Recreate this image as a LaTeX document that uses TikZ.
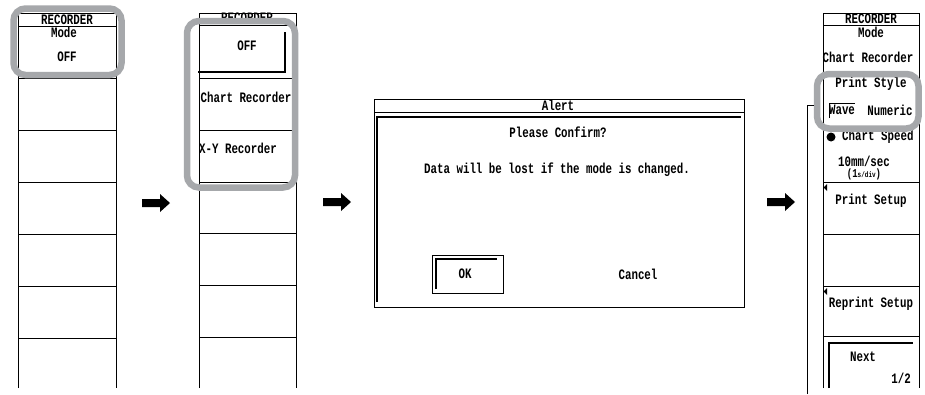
\documentclass[tikz,border=0pt]{standalone}
\usepackage{fontspec}
\newfontfamily\lcd[FakeStretch=0.75]{Liberation Mono}
\definecolor{hl}{RGB}{166,168,171}
\begin{document}
\begin{tikzpicture}[x=1pt,y=-1pt,
  txt/.style={inner sep=0pt,font=\lcd\bfseries\fontsize{14.4}{14.4}\selectfont},
  smalltxt/.style={inner sep=0pt,font=\lcd\bfseries\fontsize{12}{12}\selectfont},
  frame/.style={draw=black,line width=0.8pt},
  bevel/.style={draw=black,line width=2pt},
  hlbox/.style={draw=hl,line width=6.5pt,rounded corners=12pt},
  bigarrow/.style={fill=black}]
\useasboundingbox (0,0) rectangle (925,394);
\fill[white] (0,0) rectangle (925,394);

% ---------- panel 1 ----------
\draw[frame] (18,388) -- (18,13) -- (116,13) -- (116,388);
\foreach \yy in {26,78,130,182,234,286,338} \draw[frame] (18,\yy) -- (116,\yy);
\node[txt] (p1h) at (67,19.5) {RECORDER};
\node[txt] (p1m) at (64,32) {Mode};
\node[txt] (p1o) at (67,57) {OFF};

% ---------- arrow 1 ----------
\fill[bigarrow] (142,199) -- (160,199) -- (160,194) -- (170,203) -- (160,212) -- (160,207) -- (142,207) -- cycle;

% ---------- panel 2 ----------
\draw[frame] (199,388) -- (199,13) -- (296,13) -- (296,388);
\foreach \yy in {25,78,130,182,233,285,337} \draw[frame] (199,\yy) -- (296,\yy);
\node[txt] (p2h) at (247,18) {RECORDER};
\draw[bevel] (285,32) -- (285,72) -- (198,72);
\node[txt] (p2o) at (247,46) {OFF};
\node[txt] (p2c) at (246,97) {Chart Recorder};
\node[txt] (p2x) at (238,148) {X-Y Recorder};

% ---------- arrow 2 ----------
\fill[bigarrow] (323,198) -- (341,198) -- (341,193) -- (351,202) -- (341,211) -- (341,206) -- (323,206) -- cycle;

% ---------- alert dialog ----------
\draw[frame] (374,99) rectangle (744,307);
\draw[frame] (374,112) -- (744,112);
\node[txt] (at) at (558,105.5) {Alert};
\draw[bevel] (377,302) -- (377,117) -- (741,117);
\node[txt] (pc) at (558,132) {Please Confirm?};
\node[txt] (dw) at (557,170) {Data will be lost if the mode is changed.};
\draw[frame] (432,255) rectangle (503,293);
\draw[bevel] (436,289) -- (436,259) -- (497,259);
\node[txt] (ok) at (465,274) {OK};
\node[txt] (cn) at (638,274) {Cancel};

% ---------- arrow 3 ----------
\fill[bigarrow] (767,198) -- (785,198) -- (785,193) -- (795,202) -- (785,211) -- (785,206) -- (767,206) -- cycle;

% ---------- panel 4 ----------
\draw[frame] (823,388) -- (823,13) -- (919,13) -- (919,388);
\foreach \yy in {25,182,234,286,336} \draw[frame] (823,\yy) -- (919,\yy);
\node[txt] (p4h) at (871,19) {RECORDER};
\node[txt] (p4m) at (871,32) {Mode};
\node[txt] (p4c) at (868,57) {Chart Recorder};
\node[txt] (p4p) at (871,84) {Print Style};
\node[txt] (p4w) at (842,110) {Wave};
\node[txt] (p4n) at (890,110) {Numeric};
\draw[frame] (829,118) -- (829,103) -- (855,103);
\fill (831,137) circle (4.5);
\node[txt,anchor=west] (p4s) at (842,137) {Chart Speed};
\node[txt] (p4v) at (864,161) {10mm/sec};
\node[smalltxt] (p4d) at (864,174) {(1{\fontsize{8}{8}\selectfont s/div})};
\fill (827,184) -- (827,191) -- (823.5,187.5) -- cycle;
\node[txt] (p4ps) at (871,201) {Print Setup};
\fill (827,288) -- (827,295) -- (823.5,291.5) -- cycle;
\node[txt] (p4r) at (871,304) {Reprint Setup};
\draw[bevel] (829,388) -- (829,343) -- (913,343);
\node[txt] (p4x) at (863,357) {Next};
\node[txt,anchor=east] (p4y) at (911,378) {1/2};

% ---------- highlight boxes ----------
\draw[hlbox] (13.5,8.5) rectangle (121.5,75);
\draw[hlbox] (187,21) rectangle (295,187.5);
\draw[hlbox] (817,74) rectangle (918.5,128.5);
\coordinate (ld) at (807,394);
\coordinate (lt) at (807,105);
\coordinate (lb) at (813.5,105);
\draw[frame] (ld) -- (lt) -- (lb);
\end{tikzpicture}
\end{document}
